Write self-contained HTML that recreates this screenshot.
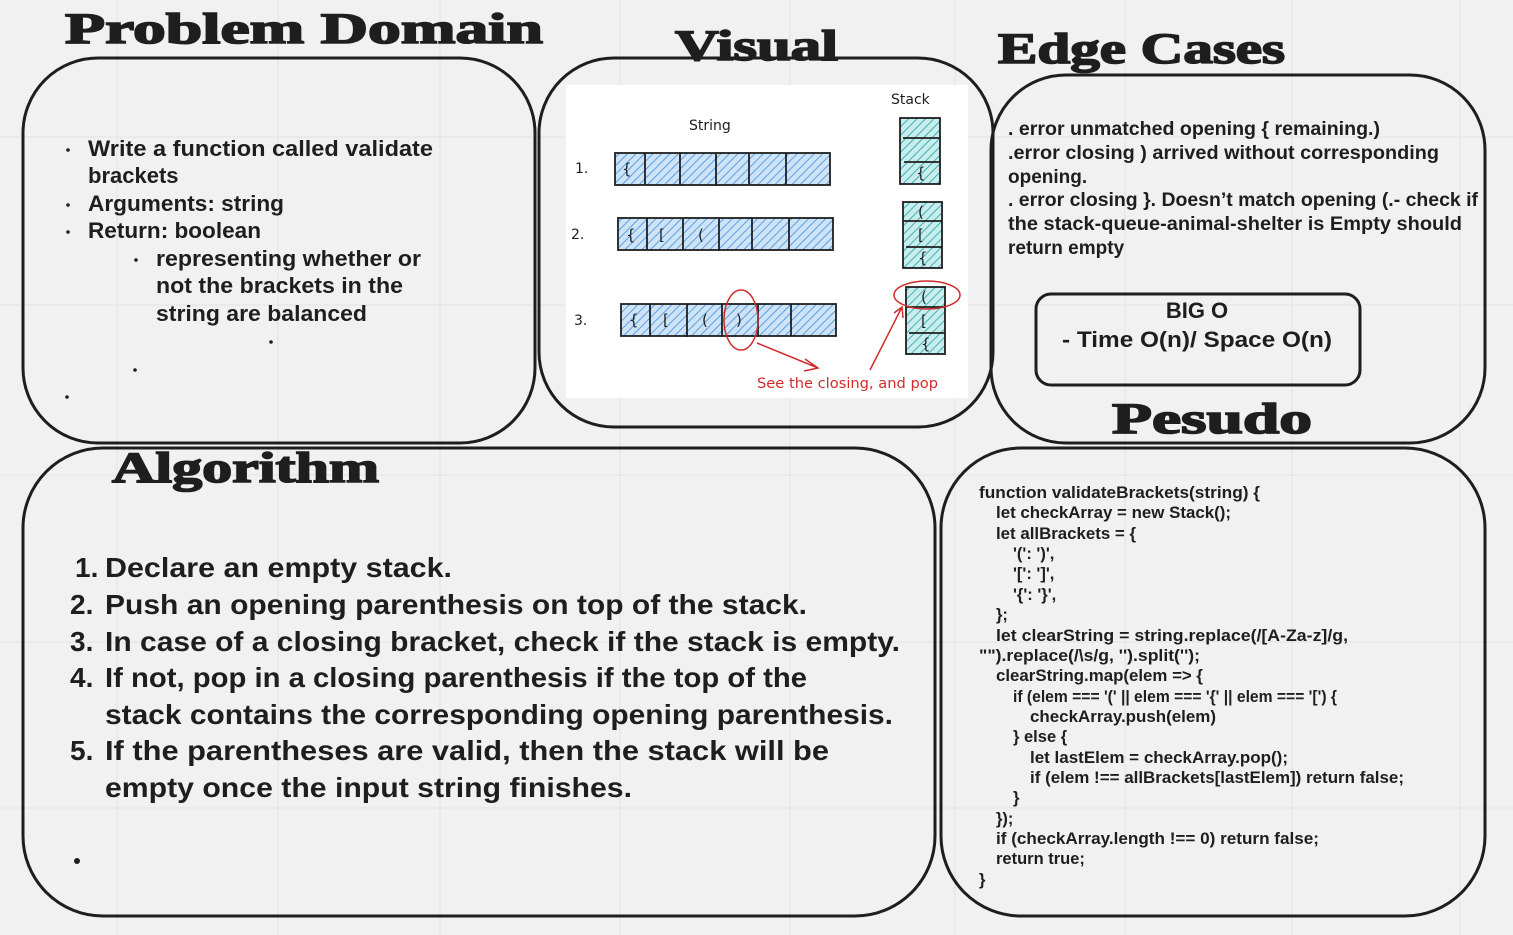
<!DOCTYPE html>
<html><head><meta charset="utf-8"><style>
html,body{margin:0;padding:0;background:#f1f1f1;}
svg{display:block;}
.t{font-family:"Liberation Sans",sans-serif;font-weight:bold;fill:#1e1e1e;}
.h{font-family:"Liberation Serif",serif;font-weight:900;fill:#1e1e1e;stroke:#1e1e1e;stroke-width:1.6;}
.hw{font-family:"DejaVu Sans",sans-serif;}
</style></head><body>
<svg width="1513" height="935" viewBox="0 0 1513 935" xmlns="http://www.w3.org/2000/svg">
<defs>
<pattern id="hb" width="6" height="6" patternUnits="userSpaceOnUse" patternTransform="rotate(45)">
<rect width="6" height="6" fill="#cfe3f7"/><line x1="0" y1="0" x2="0" y2="6" stroke="#3b8fe0" stroke-width="1.6"/></pattern>
<pattern id="ht" width="6" height="6" patternUnits="userSpaceOnUse" patternTransform="rotate(45)">
<rect width="6" height="6" fill="#c9ecec"/><line x1="0" y1="0" x2="0" y2="6" stroke="#1fa3a8" stroke-width="1.6"/></pattern>
</defs>
<g stroke="#e3e3e3" stroke-width="1">
<line x1="117" y1="0" x2="117" y2="935"/><line x1="278" y1="0" x2="278" y2="935"/><line x1="440" y1="0" x2="440" y2="935"/><line x1="620" y1="0" x2="620" y2="935"/><line x1="790" y1="0" x2="790" y2="935"/><line x1="955" y1="0" x2="955" y2="935"/><line x1="1125" y1="0" x2="1125" y2="935"/><line x1="1292" y1="0" x2="1292" y2="935"/><line x1="1460" y1="0" x2="1460" y2="935"/>
<line x1="0" y1="137" x2="1513" y2="137"/><line x1="0" y1="305" x2="1513" y2="305"/><line x1="0" y1="475" x2="1513" y2="475"/><line x1="0" y1="642" x2="1513" y2="642"/><line x1="0" y1="808" x2="1513" y2="808"/>
</g>
<g fill="none" stroke="#1e1e1e" stroke-width="3">
<rect x="23" y="58" width="512" height="385" rx="75"/>
<rect x="539" y="58" width="454" height="369" rx="75"/>
<rect x="991" y="75" width="494" height="368" rx="75"/>
<rect x="23" y="448" width="912" height="468" rx="80"/>
<rect x="941" y="448" width="544" height="468" rx="80"/>
<rect x="1036" y="294" width="324" height="91" rx="15"/>
</g>
<text class="h" x="65" y="43" font-size="43" textLength="478" lengthAdjust="spacingAndGlyphs">Problem Domain</text>
<text class="h" x="675" y="60" font-size="43" textLength="163" lengthAdjust="spacingAndGlyphs">Visual</text>
<text class="h" x="998" y="63" font-size="43" textLength="287" lengthAdjust="spacingAndGlyphs">Edge Cases</text>
<text class="h" x="1112" y="433" font-size="43" textLength="200" lengthAdjust="spacingAndGlyphs">Pesudo</text>
<text class="h" x="112" y="482" font-size="43" textLength="267" lengthAdjust="spacingAndGlyphs">Algorithm</text>

<g fill="#1e1e1e">
<circle cx="68" cy="150" r="1.8"/><circle cx="68" cy="205" r="1.8"/><circle cx="68" cy="232" r="1.8"/>
<circle cx="136" cy="260" r="1.8"/><circle cx="271" cy="342" r="1.8"/><circle cx="135" cy="370" r="1.8"/><circle cx="67" cy="397" r="1.8"/>
<circle cx="77" cy="861" r="3"/>
</g>
<g class="t" font-size="22">
<text x="88" y="156" textLength="345" lengthAdjust="spacingAndGlyphs">Write a function called validate</text>
<text x="88" y="183">brackets</text>
<text x="88" y="211" textLength="196" lengthAdjust="spacingAndGlyphs">Arguments: string</text>
<text x="88" y="238" textLength="173" lengthAdjust="spacingAndGlyphs">Return: boolean</text>
<text x="156" y="266" textLength="265" lengthAdjust="spacingAndGlyphs">representing whether or</text>
<text x="156" y="293" textLength="247" lengthAdjust="spacingAndGlyphs">not the brackets in the</text>
<text x="156" y="321" textLength="211" lengthAdjust="spacingAndGlyphs">string are balanced</text>
</g>

<g class="t" font-size="19">
<text x="1008" y="135" textLength="372" lengthAdjust="spacingAndGlyphs">. error unmatched opening { remaining.)</text>
<text x="1008" y="159" textLength="431" lengthAdjust="spacingAndGlyphs">.error closing ) arrived without corresponding</text>
<text x="1008" y="183">opening.</text>
<text x="1008" y="206" textLength="470" lengthAdjust="spacingAndGlyphs">. error closing }. Doesn’t match opening (.- check if</text>
<text x="1008" y="230" textLength="454" lengthAdjust="spacingAndGlyphs">the stack-queue-animal-shelter is Empty should</text>
<text x="1008" y="254">return empty</text>
</g>
<g class="t" font-size="22" text-anchor="middle">
<text x="1197" y="318">BIG O</text>
<text x="1197" y="347" textLength="270" lengthAdjust="spacingAndGlyphs">- Time O(n)/ Space O(n)</text>
</g>

<g class="t" font-size="28">
<text x="75" y="577">1.</text><text x="105" y="577" textLength="347" lengthAdjust="spacingAndGlyphs">Declare an empty stack.</text>
<text x="70" y="614">2.</text><text x="105" y="614" textLength="702" lengthAdjust="spacingAndGlyphs">Push an opening parenthesis on top of the stack.</text>
<text x="70" y="651">3.</text><text x="105" y="651" textLength="795" lengthAdjust="spacingAndGlyphs">In case of a closing bracket, check if the stack is empty.</text>
<text x="70" y="687">4.</text><text x="105" y="687" textLength="702" lengthAdjust="spacingAndGlyphs">If not, pop in a closing parenthesis if the top of the</text>
<text x="105" y="724" textLength="788" lengthAdjust="spacingAndGlyphs">stack contains the corresponding opening parenthesis.</text>
<text x="70" y="760">5.</text><text x="105" y="760" textLength="724" lengthAdjust="spacingAndGlyphs">If the parentheses are valid, then the stack will be</text>
<text x="105" y="797" textLength="527" lengthAdjust="spacingAndGlyphs">empty once the input string finishes.</text>
</g>

<g class="t" font-size="16.5">
<text x="979" y="498" textLength="281" lengthAdjust="spacingAndGlyphs">function validateBrackets(string) {</text>
<text x="996" y="518" textLength="235" lengthAdjust="spacingAndGlyphs">let checkArray = new Stack();</text>
<text x="996" y="539" textLength="140" lengthAdjust="spacingAndGlyphs">let allBrackets = {</text>
<text x="1013" y="559">'(': ')',</text>
<text x="1013" y="579">'[': ']',</text>
<text x="1013" y="600">'{': '}',</text>
<text x="996" y="620">};</text>
<text x="996" y="641" textLength="352" lengthAdjust="spacingAndGlyphs">let clearString = string.replace(/[A-Za-z]/g,</text>
<text x="979" y="661" textLength="221" lengthAdjust="spacingAndGlyphs">"").replace(/\s/g, '').split('');</text>
<text x="996" y="681" textLength="207" lengthAdjust="spacingAndGlyphs">clearString.map(elem =&gt; {</text>
<text x="1013" y="702" textLength="324" lengthAdjust="spacingAndGlyphs">if (elem === '(' || elem === '{' || elem === '[') {</text>
<text x="1030" y="722" textLength="186" lengthAdjust="spacingAndGlyphs">checkArray.push(elem)</text>
<text x="1013" y="742">} else {</text>
<text x="1030" y="763" textLength="258" lengthAdjust="spacingAndGlyphs">let lastElem = checkArray.pop();</text>
<text x="1030" y="783" textLength="374" lengthAdjust="spacingAndGlyphs">if (elem !== allBrackets[lastElem]) return false;</text>
<text x="1013" y="803">}</text>
<text x="996" y="824">});</text>
<text x="996" y="844" textLength="323" lengthAdjust="spacingAndGlyphs">if (checkArray.length !== 0) return false;</text>
<text x="996" y="864">return true;</text>
<text x="979" y="885">}</text>
</g>

<!-- Visual -->
<rect x="566" y="85" width="402" height="313" fill="#ffffff"/>
<g stroke="#1e1e1e" stroke-width="1.8">
<rect x="615" y="153" width="215" height="32" fill="url(#hb)"/>
<path d="M645 153V185M680 153V185M716 153V186M749 153V185M786 153V185"/>
<rect x="618" y="218" width="215" height="32" fill="url(#hb)"/>
<path d="M647 218V250M683 218V250M719 218V251M752 218V250M789 218V250"/>
<rect x="621" y="304" width="215" height="32" fill="url(#hb)"/>
<path d="M650 304V336M687 304V337M722 304V336M758 304V336M791 304V336"/>
<rect x="900" y="118" width="40" height="66" fill="url(#ht)"/>
<path d="M903 138H940M904 162H940"/>
<rect x="903" y="202" width="39" height="66" fill="url(#ht)"/>
<path d="M903 221H942M906 247H942"/>
<rect x="906" y="287" width="39" height="67" fill="url(#ht)"/>
<path d="M906 307H945M909 333H945"/>
</g>
<g class="hw" font-size="14" fill="#1e1e1e">
<text x="689" y="130">String</text>
<text x="891" y="104">Stack</text>
<text x="575" y="173">1.</text>
<text x="571" y="239">2.</text>
<text x="574" y="325">3.</text>
<g font-size="15">
<text x="622" y="174">{</text><text x="626" y="240">{</text><text x="659" y="240">[</text><text x="698" y="240">(</text>
<text x="629" y="325">{</text><text x="663" y="325">[</text><text x="702" y="325">(</text><text x="736" y="325">)</text>
<text x="916" y="178">{</text><text x="918" y="217">(</text><text x="918" y="240">[</text><text x="918" y="263">{</text>
<text x="921" y="302">(</text><text x="921" y="326">[</text><text x="921" y="349">{</text>
</g>
</g>
<g fill="none" stroke="#d22b2b" stroke-width="1.5">
<ellipse cx="741" cy="320" rx="17" ry="30"/>
<ellipse cx="927" cy="295" rx="33" ry="14"/>
<path d="M757 343L818 368M805 359L818 368L804 371"/>
<path d="M870 370L902 307M894 313L902 307L903 318"/>
</g>
<text class="hw" x="757" y="388" font-size="14" fill="#d22b2b" textLength="181" lengthAdjust="spacingAndGlyphs">See the closing, and pop</text>
</svg>
</body></html>
